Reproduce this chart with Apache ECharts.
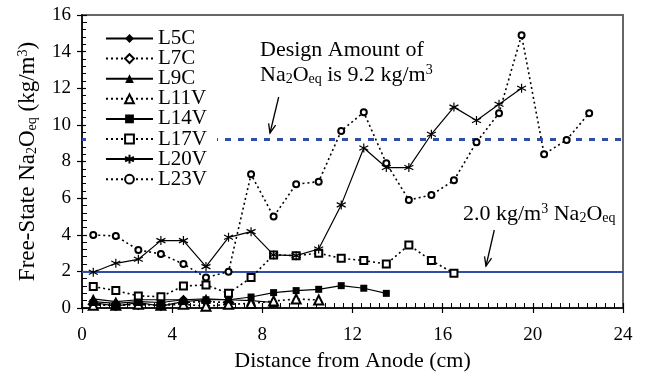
<!DOCTYPE html>
<html>
<head>
<meta charset="utf-8">
<script src="https://cdn.jsdelivr.net/npm/echarts@6.0.0/dist/echarts.min.js"></script>
<style>
html,body{margin:0;padding:0;background:#fff;}
#c{width:647px;height:378px;}
</style>
</head>
<body>
<div id="c"></div>
<script>
// Distance from anode (cm) of each sampling slice
const positions = [0.5,1.5,2.5,3.5,4.5,5.5,6.5,7.5,8.5,9.5,10.5,11.5,12.5,13.5,14.5,15.5,16.5,17.5,18.5,19.5,20.5,21.5,22.5];
const xTicks = [0,4,8,12,16,20,24];
const yTicks = [0,2,4,6,8,10,12,14,16];
const seriesNames = ['L5C','L7C','L9C','L11V','L14V','L17V','L20V','L23V'];
const L5C  = [0.35,0.25,0.35,0.30,0.45];
const L7C  = [0.20,0.15,0.20,0.15,0.30,0.35,0.30];
const L9C  = [0.50,0.35,0.45,0.45,0.45,0.50,0.45,0.40,0.30];
const L11V = [0.15,0.15,0.20,0.15,0.20,0.10,0.20,0.25,0.38,0.49,0.44];
const L14V = [0.30,0.10,0.30,0.10,0.35,0.45,0.45,0.60,0.84,0.95,1.02,1.22,1.08,0.80];
const L17V = [1.17,0.95,0.66,0.62,1.20,1.26,0.80,1.66,2.90,2.86,2.99,2.71,2.59,2.40,3.44,2.59,1.90];
const L20V = [1.95,2.44,2.66,3.68,3.68,2.26,3.86,4.17,2.90,2.86,3.22,5.63,8.74,7.67,7.67,9.49,10.97,10.24,11.13,12.00];
const L23V = [3.99,3.93,3.17,2.95,2.40,1.66,1.98,7.30,4.99,6.76,6.90,9.67,10.69,7.90,5.90,6.17,6.97,9.05,10.64,14.90,8.40,9.18,10.64];
const designAmount = 9.2;
const thresholdAmount = 2.0;

const FONT = 'Liberation Serif';
const BLUE = '#2f4fa6';
const ASTERISK = 'path://M10,0 L10,20 M1.3,5 L18.7,15 M1.3,15 L18.7,5';

function pairs(vals){ return vals.map((v,i)=>[positions[i], v]); }

const styles = {
  L5C:  {symbol:'diamond', size:10, dotted:false},
  L7C:  {symbol:'emptyDiamond', size:9, dotted:true},
  L9C:  {symbol:'triangle', size:10, dotted:false},
  L11V: {symbol:'emptyTriangle', size:9, dotted:true},
  L14V: {symbol:'rect', size:7, dotted:false},
  L17V: {symbol:'emptyRect', size:7, dotted:true},
  L20V: {symbol:ASTERISK, size:9, dotted:false},
  L23V: {symbol:'emptyCircle', size:6, dotted:true}
};
const dataMap = {L5C,L7C,L9C,L11V,L14V,L17V,L20V,L23V};

const series = seriesNames.map(name => {
  const st = styles[name];
  return {
    name: name,
    type: 'line',
    data: pairs(dataMap[name]),
    symbol: st.symbol,
    symbolSize: st.size,
    showAllSymbol: true,
    animation: false,
    lineStyle: st.dotted ? {color:'#000', width:1.6, type:[2,3]} : {color:'#000', width:1.2, type:'solid'},
    itemStyle: {color:'#000', borderColor:'#000', borderWidth: (st.symbol.indexOf('empty')===0 || st.symbol===ASTERISK) ? 1.2 : 0}
  };
});
// reference lines
series.push({
  type:'line', data:[], silent:true, animation:false, z:1,
  markLine:{
    silent:true, symbol:'none', animation:false, z:1,
    label:{show:false},
    data:[
      {yAxis: designAmount, lineStyle:{color:BLUE, width:3, type:[6,7]}},
      {yAxis: thresholdAmount, lineStyle:{color:BLUE, width:2, type:'solid'}}
    ]
  }
});

function richOf(size){
  const s2 = Math.round(size*0.62);
  return {
    a:{fontFamily:FONT, fontSize:size, color:'#000'},
    s:{fontFamily:FONT, fontSize:s2, color:'#000', padding:[9,0,0,0]},
    p:{fontFamily:FONT, fontSize:s2, color:'#000', padding:[0,0,9,0]}
  };
}

function arrow(x1,y1,x2,y2){
  const dx=x2-x1, dy=y2-y1, L=Math.hypot(dx,dy);
  const ux=dx/L, uy=dy/L, h=9, w=3.6;
  const bx=x2-ux*h, by=y2-uy*h;
  return [
    {type:'line', silent:true, shape:{x1,y1,x2,y2}, style:{stroke:'#000', lineWidth:1.3}, z:100},
    {type:'polyline', silent:true, shape:{points:[[bx-uy*w,by+ux*w],[x2,y2],[bx+uy*w,by-ux*w]]}, style:{stroke:'#000', lineWidth:1.3, fill:null}, z:100}
  ];
}

const chart = echarts.init(document.getElementById('c'), null, {renderer:'canvas'});
const baseX = {type:'value', min:0, max:24, interval:4, gridIndex:0};
chart.setOption({
  animation:false,
  backgroundColor:'#fff',
  grid:{left:82, right:24, top:15, bottom:70, show:true, borderColor:'#666', borderWidth:2, outerBoundsMode:'none'},
  legend:{
    orient:'vertical', left:86, top:24, z:50,
    padding:[4,10,4,19],
    backgroundColor:'#fff',
    itemWidth:47, itemHeight:11, itemGap:-0.9,
    data:seriesNames,
    textStyle:{fontFamily:FONT, fontSize:21, color:'#000'}
  },
  xAxis:[
    Object.assign({}, baseX, {
      name:'Distance from Anode (cm)', nameLocation:'middle', nameGap:33,
      nameTextStyle:{fontFamily:FONT, fontSize:22, color:'#000'},
      axisLine:{show:true, onZero:false, lineStyle:{color:'#000', width:1.5}},
      axisTick:{show:true, inside:true, length:5, lineStyle:{color:'#000', width:1.2}},
      minorTick:{show:true, splitNumber:10, length:5, lineStyle:{color:'#000', width:1}},
      axisLabel:{show:true, margin:18, fontFamily:FONT, fontSize:19, color:'#000',
        formatter:v => xTicks.indexOf(v)>=0 ? String(v) : ''},
      splitLine:{show:false}
    }),
    Object.assign({}, baseX, {
      position:'bottom',
      axisLine:{show:false},
      axisTick:{show:true, inside:false, length:5, lineStyle:{color:'#000', width:1.2}},
      axisLabel:{show:false}, splitLine:{show:false}
    })
  ],
  yAxis:[
    {
      type:'value', min:0, max:16, interval:2,
      name:'{a|Free-State Na}{s|2}{a|O}{s|eq}{a| (kg/m}{p|3}{a|)}',
      nameLocation:'middle', nameGap:43, nameRotate:90,
      nameTextStyle:{fontFamily:FONT, fontSize:23, color:'#000', rich:richOf(23)},
      axisLine:{show:true, onZero:false, lineStyle:{color:'#000', width:1.5}},
      axisTick:{show:true, inside:true, length:5, lineStyle:{color:'#000', width:1.2}},
      minorTick:{show:true, splitNumber:5, length:5, lineStyle:{color:'#000', width:1}},
      axisLabel:{show:true, margin:11, fontFamily:FONT, fontSize:19, color:'#000',
        formatter:v => yTicks.indexOf(v)>=0 ? String(v) : ''},
      splitLine:{show:false}
    },
    {
      type:'value', min:0, max:16, interval:2, position:'left',
      axisLine:{show:false},
      axisTick:{show:true, inside:false, length:5, lineStyle:{color:'#000', width:1.2}},
      axisLabel:{show:false}, splitLine:{show:false}
    }
  ],
  series: series,
  graphic: [
    {type:'text', silent:true, x:260, y:50, z:100,
      style:{text:'{a|Design Amount of}', rich:richOf(22), verticalAlign:'middle', align:'left'}},
    {type:'text', silent:true, x:260, y:75, z:100,
      style:{text:'{a|Na}{s|2}{a|O}{s|eq}{a| is 9.2 kg/m}{p|3}', rich:richOf(22), verticalAlign:'middle', align:'left'}},
    {type:'text', silent:true, x:463, y:214, z:100,
      style:{text:'{a|2.0 kg/m}{p|3}{a| Na}{s|2}{a|O}{s|eq}', rich:richOf(22), verticalAlign:'middle', align:'left'}}
  ].concat(arrow(278.7,97,270,133)).concat(arrow(494.3,230,486,266))
});
</script>
</body>
</html>
